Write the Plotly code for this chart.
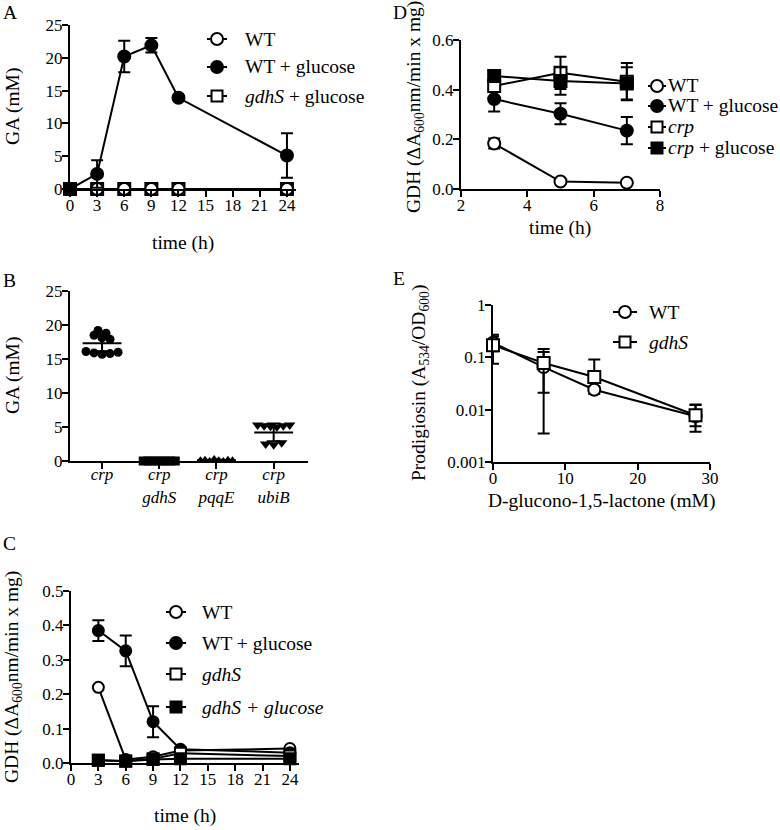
import numpy as np
import plotly.graph_objects as go

W, H = 780, 830
FONT = "Liberation Serif, Times New Roman, serif"

# ---------------- data ----------------
# Panel A: GA (mM) vs time (h)
A_time = [0, 3, 6, 9, 12, 24]
A_wt = [0, 0, 0, 0, 0, 0]
A_wt_glc = [0, 2.3, 20.2, 21.9, 13.9, 5.1]
A_wt_glc_err = [0, 2.1, 2.4, 1.1, 0.3, 3.4]
A_gdhs_glc = [0, 0, 0, 0, 0, 0]
A_xticks = [0, 3, 6, 9, 12, 15, 18, 21, 24]
A_yticks = [0, 5, 10, 15, 20, 25]

# Panel B: GA (mM) per strain (scatter with mean +/- SD)
B_labels = ["<i>crp</i>", "<i>crp</i><br><i>gdhS</i>", "<i>crp</i><br><i>pqqE</i>", "<i>crp</i><br><i>ubiB</i>"]
B_crp = [19.2, 18.8, 18.5, 18.1, 17.9, 16.1, 15.9, 15.7, 15.8, 16.0]
B_crp_gdhs = [0, 0, 0, 0, 0, 0, 0, 0]
B_crp_pqqe = [0.1, 0.2, 0.0, 0.3, 0.1, 0.0, 0.2, 0.1]
B_crp_ubib = [5.3, 5.2, 5.1, 5.0, 5.2, 5.3, 2.5, 2.4, 2.7]
B_mean = [17.3, 0.0, 0.1, 4.2]
B_sd = [1.15, 0.0, 0.1, 1.3]

# Panel C: GDH vs time (h)
C_time = [3, 6, 9, 12, 24]
C_wt = [0.22, 0.01, 0.018, 0.036, 0.042]
C_wt_glc = [0.385, 0.326, 0.12, 0.04, 0.03]
C_wt_glc_err = [0.03, 0.045, 0.045, 0.005, 0.005]
C_gdhs = [0.008, 0.006, 0.012, 0.028, 0.02]
C_gdhs_glc = [0.008, 0.005, 0.01, 0.012, 0.012]

# Panel D: GDH vs time (h)
D_time = [3, 5, 7]
D_wt = [0.183, 0.03, 0.025]
D_wt_err = [0.02, 0.0, 0.0]
D_wt_glc = [0.362, 0.303, 0.235]
D_wt_glc_err = [0.05, 0.042, 0.055]
D_crp = [0.415, 0.468, 0.432]
D_crp_err = [0.015, 0.065, 0.075]
D_crp_glc = [0.455, 0.435, 0.425]
D_crp_glc_err = [0.02, 0.055, 0.065]

# Panel E: Prodigiosin vs D-glucono-1,5-lactone (mM)
E_conc = [0, 7, 14, 28]
E_wt = [0.19, 0.065, 0.024, 0.0075]
E_wt_errp = [0.06, 0.062, 0.004, 0.005]
E_wt_errm = [0.06, 0.0615, 0.004, 0.0037]
E_gdhs = [0.17, 0.078, 0.042, 0.0078]
E_gdhs_errp = [0.1, 0.066, 0.049, 0.0045]
E_gdhs_errm = [0.095, 0.057, 0.0, 0.003]

# legend labels per panel
A_legend = [("circle", False, "WT"), ("circle", True, "WT + glucose"),
            ("square", False, "<i>gdhS</i> + glucose")]
C_legend = [("circle", False, "WT"), ("circle", True, "WT + glucose"),
            ("square", False, "<i>gdhS</i>"), ("square", True, "<i>gdhS + glucose</i>")]
D_legend = [("circle", False, "WT"), ("circle", True, "WT + glucose"),
            ("square", False, "<i>crp</i>"), ("square", True, "<i>crp</i> + glucose")]
E_legend = [("circle", False, "WT"), ("square", False, "<i>gdhS</i>")]


# ---------------- helpers ----------------
def px(x):
    return x / W


def py(y):
    return 1 - y / H


LW = 2


def ERR(arr, **kw):
    return dict(type="data", array=arr, visible=True, thickness=LW, width=6, color="black", **kw)


fig = go.Figure()


def line_trace(x, y, xa, ya, name, symbol, filled, size, err=None):
    marker = dict(symbol=symbol, size=size,
                  color="black" if filled else "white",
                  line=dict(color="black", width=LW))
    fig.add_trace(go.Scatter(
        x=x, y=y, xaxis=xa, yaxis=ya, mode="lines+markers", name=name,
        line=dict(color="black", width=LW), marker=marker,
        error_y=err, cliponaxis=False, showlegend=False))


# Panel A
line_trace(A_time, A_gdhs_glc, "x", "y", "gdhS + glucose", "square", False, 12)
line_trace(A_time, A_wt, "x", "y", "WT", "circle", False, 12)
line_trace(A_time, A_wt_glc, "x", "y", "WT + glucose", "circle", True, 12, ERR(A_wt_glc_err))

# Panel B (jittered scatter with mean +/- SD)
B_groups = [(B_crp, "circle", 9), (B_crp_gdhs, "square", 9),
            (B_crp_pqqe, "triangle-up", 8), (B_crp_ubib, "triangle-down", 10)]


def swarm(vals, binw, step, maxw):
    vals = np.asarray(vals, float)
    off = np.zeros(len(vals))
    bins = np.round(vals / binw)
    for b in np.unique(bins):
        idx = np.where(bins == b)[0]
        k = len(idx)
        s = step if k < 2 else min(step, 2 * maxw / (k - 1))
        off[idx] = (np.arange(k) - (k - 1) / 2) * s
    return off


for i, (vals, sym, sz) in enumerate(B_groups):
    off = swarm(vals, 1.2, 0.14, 0.28)
    fig.add_trace(go.Scatter(
        x=i + off, y=vals, xaxis="x2", yaxis="y2", mode="markers",
        marker=dict(symbol=sym, size=sz, color="black", line=dict(width=0)),
        showlegend=False, cliponaxis=False))
    fig.add_trace(go.Scatter(
        x=[i - 0.34, i + 0.34], y=[B_mean[i], B_mean[i]], xaxis="x2", yaxis="y2",
        mode="lines", line=dict(color="black", width=LW), showlegend=False, cliponaxis=False))
    fig.add_trace(go.Scatter(
        x=[i], y=[B_mean[i]], xaxis="x2", yaxis="y2", mode="markers",
        marker=dict(size=1, color="rgba(0,0,0,0)"),
        error_y=dict(type="data", array=[B_sd[i]], visible=True, thickness=LW, width=7, color="black"),
        showlegend=False, cliponaxis=False))

# Panel C
line_trace(C_time, C_wt, "x3", "y3", "WT", "circle", False, 11)
line_trace(C_time, C_wt_glc, "x3", "y3", "WT + glucose", "circle", True, 11, ERR(C_wt_glc_err))
line_trace(C_time, C_gdhs, "x3", "y3", "gdhS", "square", False, 11)
line_trace(C_time, C_gdhs_glc, "x3", "y3", "gdhS + glucose", "square", True, 11)

# Panel D
line_trace(D_time, D_wt, "x4", "y4", "WT", "circle", False, 12, ERR(D_wt_err))
line_trace(D_time, D_wt_glc, "x4", "y4", "WT + glucose", "circle", True, 12, ERR(D_wt_glc_err))
line_trace(D_time, D_crp, "x4", "y4", "crp", "square", False, 12, ERR(D_crp_err))
line_trace(D_time, D_crp_glc, "x4", "y4", "crp + glucose", "square", True, 12, ERR(D_crp_glc_err))

# Panel E
line_trace(E_conc, E_wt, "x5", "y5", "WT", "circle", False, 12,
           ERR(E_wt_errp, symmetric=False, arrayminus=E_wt_errm))
line_trace(E_conc, E_gdhs, "x5", "y5", "gdhS", "square", False, 12,
           ERR(E_gdhs_errp, symmetric=False, arrayminus=E_gdhs_errm))

# ---------------- axes ----------------
TICKF = dict(family=FONT, size=17, color="black")
base = dict(showline=True, linewidth=LW, linecolor="black", ticks="outside", ticklen=6,
            tickwidth=LW, tickcolor="black", showgrid=False, zeroline=False,
            tickfont=TICKF, fixedrange=True)
bx = dict(base, ticklabelstandoff=-6)
by = dict(base, ticklabelstandoff=-4)


def dom_x(a, b):
    return [px(a), px(b)]


def dom_y(top, bottom):
    return [py(bottom), py(top)]


fig.update_layout(
    xaxis=dict(bx, domain=dom_x(70, 296), range=[0, 25], tickvals=A_xticks, anchor="y"),
    yaxis=dict(by, domain=dom_y(25, 189), range=[0, 25], tickvals=A_yticks, anchor="x"),
    xaxis2=dict(bx, domain=dom_x(70, 308), range=[-0.56, 3.6], tickvals=[0, 1, 2, 3],
                ticktext=B_labels, anchor="y2", ticklabelstandoff=-9),
    yaxis2=dict(by, domain=dom_y(291, 461), range=[0, 25], tickvals=A_yticks, anchor="x2"),
    xaxis3=dict(bx, domain=dom_x(71, 299), range=[0, 25], tickvals=A_xticks, anchor="y3"),
    yaxis3=dict(by, domain=dom_y(591, 763), range=[0, 0.5], dtick=0.1, tick0=0,
                tickformat=".1f", anchor="x3"),
    xaxis4=dict(bx, domain=dom_x(461, 660), range=[2, 8], dtick=2, tick0=2, anchor="y4"),
    yaxis4=dict(by, domain=dom_y(40, 189), range=[0, 0.6], dtick=0.2, tick0=0,
                tickformat=".1f", anchor="x4"),
    xaxis5=dict(bx, domain=dom_x(493, 710), range=[0, 30], dtick=10, tick0=0, anchor="y5"),
    yaxis5=dict(by, domain=dom_y(305, 462), type="log", range=[-3, 0],
                tickvals=[0.001, 0.01, 0.1, 1], ticktext=["0.001", "0.01", "0.1", "1"], anchor="x5"),
)

# ---------------- annotations (axis titles, legends & panel letters) ----------------
ann = []
shapes = []
TS = 19.5


def text(x, y, s, angle=0, size=TS, xanchor="center"):
    ann.append(dict(x=px(x), y=py(y), xref="paper", yref="paper", text=s, showarrow=False,
                    textangle=angle, xanchor=xanchor, yanchor="middle",
                    font=dict(family=FONT, size=size, color="black")))


def key_legend(items, mx, tx, rows, half=10, r=6):
    for (sym, filled, label), y in zip(items, rows):
        shapes.append(dict(type="line", xref="paper", yref="paper",
                           x0=px(mx - half), x1=px(mx + half), y0=py(y), y1=py(y),
                           line=dict(color="black", width=LW)))
        kind = "circle" if sym == "circle" else "rect"
        rr = r if sym == "circle" else r - 0.5
        shapes.append(dict(type=kind, xref="paper", yref="paper",
                           x0=px(mx - rr), x1=px(mx + rr), y0=py(y + rr), y1=py(y - rr),
                           fillcolor="black" if filled else "white",
                           line=dict(color="black", width=LW)))
        text(tx, y, label, 0, TS, "left")


key_legend(A_legend, 217, 243, [39, 67, 96])
key_legend(C_legend, 176, 200, [612, 643, 674, 707])
key_legend(D_legend, 657, 666, [86, 106, 127, 148], half=9)
key_legend(E_legend, 625, 647, [312, 342], half=12)

text(183, 243, "time (h)")
text(13, 107, "GA (mM)", -90)
text(13, 376, "GA (mM)", -90)
text(185, 816, "time (h)")
text(13, 677, "GDH (ΔA<sub>600</sub>nm/min x mg)", -90)
text(560, 228, "time (h)")
text(415, 107, "GDH (ΔA<sub>600</sub>nm/min x mg)", -90)
text(601, 501, "D-glucono-1,5-lactone (mM)")
text(420, 383, "Prodigiosin (A<sub>534</sub>/OD<sub>600</sub>)", -90)

for letter, x, y in [("A", 1, 12), ("B", 1, 280), ("C", 1, 543), ("D", 391, 12), ("E", 391, 278)]:
    text(x, y, letter, 0, TS, "left")

fig.update_layout(
    annotations=ann, shapes=shapes,
    width=W, height=H, showlegend=False,
    margin=dict(l=0, r=0, t=0, b=0, autoexpand=False),
    paper_bgcolor="white", plot_bgcolor="white",
    font=dict(family=FONT, color="black"),
)

fig.write_html("out.html", config={"displayModeBar": False},
               post_script="document.body.style.margin='0px';")
